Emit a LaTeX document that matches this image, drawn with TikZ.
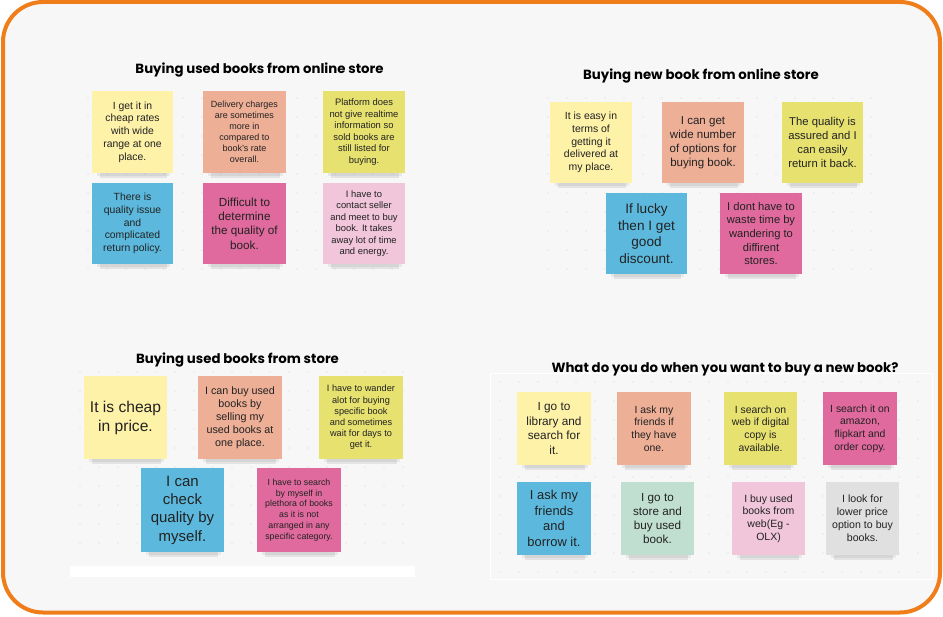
\documentclass[tikz,border=0pt]{standalone}
\usepackage{fontspec}
\setmainfont{Liberation Sans}
\newfontfamily\titlefont{Poppins}
\definecolor{cYel}{HTML}{FEF2A9}
\definecolor{cSal}{HTML}{EEAF97}
\definecolor{cYG}{HTML}{E7E170}
\definecolor{cBlue}{HTML}{5CB9DD}
\definecolor{cPink}{HTML}{E06A9D}
\definecolor{cLPink}{HTML}{F1C6DA}
\definecolor{cMint}{HTML}{C0DFD1}
\definecolor{cGrey}{HTML}{E0E0E0}
\definecolor{cOrange}{HTML}{EF7D1A}
\definecolor{cBg}{HTML}{F7F7F7}
\definecolor{cText}{HTML}{222222}
\definecolor{cDot}{HTML}{D4D4D4}
\tikzset{
  note/.style={inner sep=0pt, align=center, text=cText},
  grouptitle/.style={anchor=base, font=\titlefont\bfseries\fontsize{13.3}{15}\selectfont, text=black},
  griddot/.style={fill=cDot}
}
% name, x1, y1, x2, y2, colour, font size, line spacing, text
\newcommand\sticky[9]{%
  \fill[black,opacity=0.06] ({#2+5},{#5-4}) rectangle ({#4-3},{#5+3});
  \fill[black,opacity=0.08] ({#2+8},{#5-4}) rectangle ({#4-6},{#5+5});
  \node[note, fill=#6, minimum width={(#4-#2)*1pt}, minimum height={(#5-#3)*1pt},
        font=\fontsize{#7}{#8}\selectfont] (#1) at ({(#2+#4)/2},{(#3+#5)/2}) {#9};%
}
\newcommand\dotgrid[4]{%
  \pgfmathsetmacro\dgx{#1+19}%
  \pgfmathsetmacro\dgy{#2+19}%
  \foreach \gx in {#1,\dgx,...,#3} {
    \foreach \gy in {#2,\dgy,...,#4} {
      \fill[griddot] (\gx,\gy) circle (0.7);
    }
  }%
}
\begin{document}
\begin{tikzpicture}[x=1pt,y=-1pt]
\useasboundingbox (0,0) rectangle (943,617);
\fill[white] (0,0) rectangle (943,617);
\fill[cBg, rounded corners=40] (3,2) rectangle (940,612.5);

% panels
\fill[white] (70,566) rectangle (415,577);
\draw[white, line width=1] (490,374) rectangle (932,579);

% dot grids
\dotgrid{88}{98}{410}{275}
\dotgrid{548}{98}{880}{285}
\dotgrid{80}{372}{410}{560}
\dotgrid{500}{382}{920}{572}

% titles
\node[grouptitle] (t1) at (259.5,74) {Buying used books from online store};
\node[grouptitle] (t2) at (701,80) {Buying new book from online store};
\node[grouptitle] (t3) at (237.5,364) {Buying used books from store};
\node[grouptitle] (t4) at (725,373) {What do you do when you want to buy a new book?};

% group 1
\sticky{n1a}{92}{91}{173}{173}{cYel}{10.4}{12.7}{I get it in\\cheap rates\\with wide\\range at one\\place.}
\sticky{n1b}{203}{91}{286}{173}{cSal}{9}{11}{Delivery charges\\are sometimes\\more in\\compared to\\book's rate\\overall.}
\sticky{n1c}{323}{91}{405}{173}{cYG}{9.4}{11.5}{Platform does\\not give realtime\\information so\\sold books are\\still listed for\\buying.}
\sticky{n1d}{92}{183}{173}{264}{cBlue}{10.4}{12.7}{There is\\quality issue\\and\\complicated\\return policy.}
\sticky{n1e}{203}{183}{286}{264}{cPink}{11.7}{14.3}{Difficult to\\determine\\the quality of\\book.}
\sticky{n1f}{323}{183}{405}{264}{cLPink}{9.4}{11.5}{I have to\\contact seller\\and meet to buy\\book. It takes\\away lot of time\\and energy.}

% group 2
\sticky{n2a}{550}{102}{632}{183}{cYel}{10.45}{12.75}{It is easy in\\terms of\\getting it\\delivered at\\my place.}
\sticky{n2b}{662}{102}{744}{183}{cSal}{11.55}{14.1}{I can get\\wide number\\of options for\\buying book.}
\sticky{n2c}{782}{102}{863}{183}{cYG}{11.3}{13.8}{The quality is\\assured and I\\can easily\\return it back.}
\sticky{n2d}{606}{193}{687}{274}{cBlue}{13.6}{16.6}{If lucky\\then I get\\good\\discount.}
\sticky{n2e}{720}{193}{802}{274}{cPink}{11.15}{13.6}{I dont have to\\waste time by\\wandering to\\diffirent\\stores.}

% group 3
\sticky{n3a}{84}{376}{167}{459}{cYel}{15.6}{19}{It is cheap\\in price.}
\sticky{n3b}{198}{376}{282}{459}{cSal}{10.75}{13.1}{I can buy used\\books by\\selling my\\used books at\\one place.}
\sticky{n3c}{319}{376}{403}{459}{cYG}{9.2}{11.2}{I have to wander\\alot for buying\\specific book\\and sometimes\\wait for days to\\get it.}
\sticky{n3d}{141}{468}{224}{552}{cBlue}{15}{18.3}{I can\\check\\quality by\\myself.}
\sticky{n3e}{257}{468}{341}{552}{cPink}{8.8}{10.7}{I have to search\\by myself in\\plethora of books\\as it is not\\arranged in any\\specific category.}

% group 4
\sticky{n4a}{517}{392}{591}{465}{cYel}{11.8}{14.4}{I go to\\library and\\search for\\it.}
\sticky{n4b}{617}{392}{691}{465}{cSal}{10.4}{12.7}{I ask my\\friends if\\they have\\one.}
\sticky{n4c}{724}{392}{797}{465}{cYG}{10.4}{12.7}{I search on\\web if digital\\copy is\\available.}
\sticky{n4d}{823}{392}{897}{465}{cPink}{10.4}{12.7}{I search it on\\amazon,\\flipkart and\\order copy.}
\sticky{n4e}{517}{482}{591}{555}{cBlue}{12.9}{15.7}{I ask my\\friends\\and\\borrow it.}
\sticky{n4f}{621}{482}{694}{555}{cMint}{11.7}{14.3}{I go to\\store and\\buy used\\book.}
\sticky{n4g}{732}{482}{805}{555}{cLPink}{10.5}{12.8}{I buy used\\books from\\web(Eg -\\OLX)}
\sticky{n4h}{826}{482}{899}{555}{cGrey}{10.6}{12.9}{I look for\\lower price\\option to buy\\books.}

% border
\draw[cOrange, line width=4, rounded corners=40] (3,2) rectangle (940,612.5);
\end{tikzpicture}
\end{document}
